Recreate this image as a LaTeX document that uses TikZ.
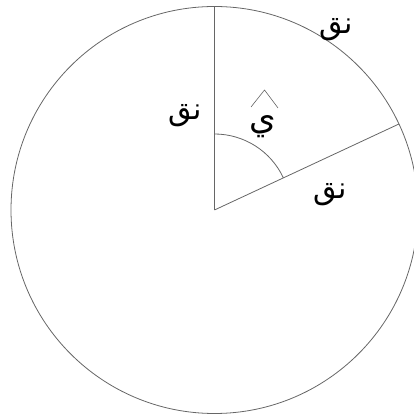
\documentclass[tikz,border=0pt]{standalone}
\usepackage{fontspec}
\usetikzlibrary{calc}
\newfontfamily\arabicfont[Script=Arabic]{DejaVu Sans}
\TeXXeTstate=1
\begin{document}
\begin{tikzpicture}[x=1pt,y=1pt,
  geom/.style={draw=black!60, line width=0.8pt},
  lbl/.style={inner sep=0pt, font=\arabicfont\fontsize{30}{34}\selectfont}]
\useasboundingbox (0,0) rectangle (414,417);
\clip (0,0) rectangle (414,417);
\coordinate (O) at (214.5,207);
\coordinate (T) at ($(O)+(90:203.5)$);
\coordinate (R) at ($(O)+(25:203.5)$);
\draw[geom] (O) circle[radius=203.5];
\draw[geom] (O) -- (T);
\draw[geom] (O) -- (R);
\draw[geom] ($(O)+(90:76)$) arc[start angle=90, end angle=25, radius=76];
\node[lbl] (rtop) at (336,387) {\beginR نق\endR};
\node[lbl] (rleft) at (185,301) {\beginR نق\endR};
\node[lbl] (rlow) at (330,222) {\beginR نق\endR};
\node[lbl, font=\arabicfont\fontsize{34}{38}\selectfont] (ang) at (263,290) {\beginR ي\endR};
\coordinate (hl) at (251,310);
\coordinate (ha) at (264.5,327);
\coordinate (hr) at (278,309);
\draw[geom, line width=0.6pt] (hl) -- (ha) -- (hr);
\end{tikzpicture}
\end{document}
